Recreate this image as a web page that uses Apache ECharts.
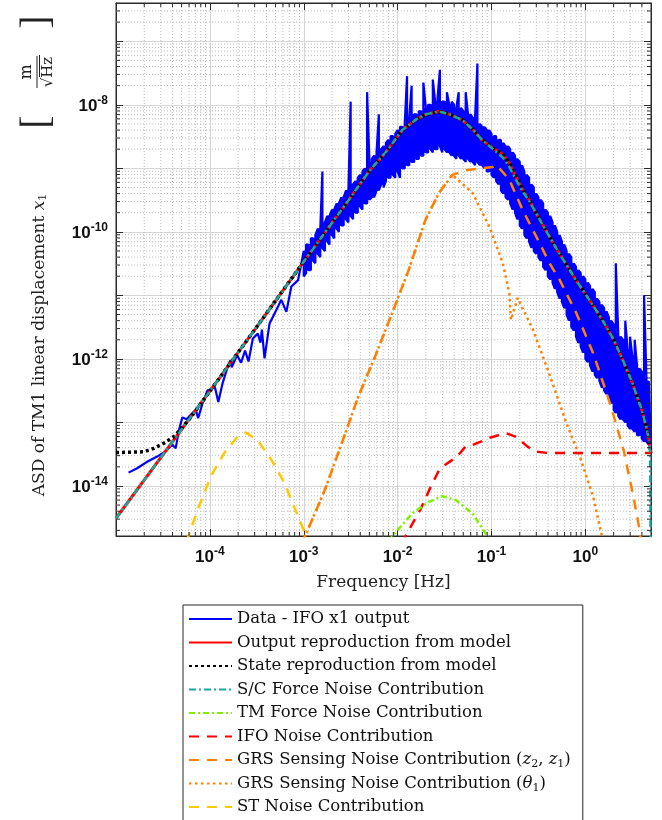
<!DOCTYPE html>
<html><head><meta charset="utf-8">
<script src="https://cdn.jsdelivr.net/npm/echarts@6/dist/echarts.min.js"></script>
<style>html,body{margin:0;padding:0;background:#fff;overflow:hidden}#c{width:662px;height:840px}</style>
</head><body><div id="c"></div>
<script>
// ---- axis settings ----
const xMin = 1e-5, xMax = 5;
const yMin = 1.63e-15, yMax = 4e-7;

// ---- measured data (blue), low-frequency part: [Hz, m/sqrt(Hz)] ----
const blueLowFreq = [
[1.36e-5,1.62e-14],[1.68e-5,1.9e-14],[2.15e-5,2.4e-14],[2.75e-5,2.9e-14],[3.37e-5,3.5e-14],[3.98e-5,4.5e-14],[4.32e-5,3.9e-14],[4.69e-5,7.6e-14],[5.09e-5,1.2e-13],[5.66e-5,1.12e-13],[6.25e-5,1.32e-13],[7.08e-5,1.58e-13],[7.5e-5,1.17e-13],[8.36e-5,2.0e-13],[9.44e-5,3.2e-13],[1.02e-4,3.3e-13],[1.13e-4,3.6e-13],[1.23e-4,2.1e-13],[1.37e-4,4.2e-13],[1.55e-4,7.6e-13],[1.65e-4,9.5e-13],[1.71e-4,7.4e-13],[1.95e-4,1.15e-12],[2.15e-4,8.7e-13],[2.37e-4,1.35e-12],[2.58e-4,9.1e-13],[2.87e-4,2.1e-12],[3.24e-4,2.5e-12],[3.46e-4,1.8e-12],[3.58e-4,2.9e-12],[3.82e-4,1.02e-12],[4.32e-4,3.6e-12],[4.89e-4,5.2e-12],[5.77e-4,8.5e-12],[6.53e-4,5.5e-12],[7.38e-4,1.38e-11],[8.71e-4,1.74e-11]
];
// ---- measured data (blue), dense band above 1 mHz: frequency, upper and lower excursion ----
const blueFreq = [
1.00e-3,1.06e-3,1.12e-3,1.19e-3,1.26e-3,1.33e-3,1.41e-3,1.50e-3,1.58e-3,1.68e-3,1.78e-3,1.88e-3,2.00e-3,2.11e-3,2.24e-3,2.37e-3,2.51e-3,2.66e-3,2.82e-3,2.99e-3,
3.16e-3,3.35e-3,3.55e-3,3.76e-3,3.98e-3,4.22e-3,4.47e-3,4.73e-3,5.01e-3,5.31e-3,5.62e-3,5.96e-3,6.31e-3,6.68e-3,7.08e-3,7.50e-3,7.94e-3,8.41e-3,8.91e-3,9.44e-3,
1.00e-2,1.06e-2,1.12e-2,1.19e-2,1.26e-2,1.33e-2,1.41e-2,1.50e-2,1.58e-2,1.68e-2,1.78e-2,1.88e-2,2.00e-2,2.11e-2,2.24e-2,2.37e-2,2.51e-2,2.66e-2,2.82e-2,2.99e-2,
3.16e-2,3.35e-2,3.55e-2,3.76e-2,3.98e-2,4.22e-2,4.47e-2,4.73e-2,5.01e-2,5.31e-2,5.62e-2,5.96e-2,6.31e-2,6.68e-2,7.08e-2,7.50e-2,7.94e-2,8.41e-2,8.91e-2,9.44e-2,
1.00e-1,1.06e-1,1.12e-1,1.19e-1,1.26e-1,1.33e-1,1.41e-1,1.50e-1,1.58e-1,1.68e-1,1.78e-1,1.88e-1,2.00e-1,2.11e-1,2.24e-1,2.37e-1,2.51e-1,2.66e-1,2.82e-1,2.99e-1,
3.16e-1,3.35e-1,3.55e-1,3.76e-1,3.98e-1,4.22e-1,4.47e-1,4.73e-1,5.01e-1,5.31e-1,5.62e-1,5.96e-1,6.31e-1,6.68e-1,7.08e-1,7.50e-1,7.94e-1,8.41e-1,8.91e-1,9.44e-1,
1.00,1.06,1.12,1.19,1.26,1.33,1.41,1.50,1.58,1.68,1.78,1.88,2.00,2.11,2.24,2.37,2.51,2.66,2.82,2.99,
3.16,3.35,3.55,3.76,3.98,4.22,4.47,4.73,5.00
];
const blueUpper = [
5.0e-11,6.3e-11,6.3e-11,7.9e-11,7.9e-11,8.9e-11,1.12e-10,1.12e-10,8.9e-10,1.41e-10,
1.78e-10,1.78e-10,2.24e-10,2.24e-10,2.8e-10,2.8e-10,3.5e-10,3.5e-10,4.5e-10,4.5e-10,
1.12e-8,5.6e-10,6.3e-10,7.1e-10,7.9e-10,8.9e-10,1.0e-9,1.58e-8,1.26e-9,1.41e-9,
1.58e-9,1.78e-9,7.1e-9,2.0e-9,2.24e-9,2.5e-9,2.8e-9,3.2e-9,3.2e-9,3.5e-9,
4.0e-9,4.5e-9,4.5e-9,5.0e-9,2.82e-8,6.3e-9,2.0e-8,7.1e-9,7.1e-9,7.9e-9,
7.9e-9,2.24e-8,8.9e-9,1.0e-8,1.0e-8,2.5e-8,1.12e-8,1.26e-8,3.55e-8,1.12e-8,
1.12e-8,1.58e-8,1.0e-8,1.12e-8,1.0e-8,8.9e-9,1.58e-8,8.9e-9,7.9e-9,1.58e-8,
7.1e-9,7.1e-9,6.3e-9,6.3e-9,4.47e-8,5.0e-9,4.5e-9,4.5e-9,4.0e-9,4.0e-9,
3.5e-9,3.2e-9,3.2e-9,2.8e-9,2.8e-9,2.5e-9,2.24e-9,2.24e-9,2.0e-9,1.78e-9,
1.58e-9,1.41e-9,1.26e-9,1.12e-9,8.9e-10,7.9e-10,7.1e-10,5.6e-10,5.0e-10,4.0e-10,
3.5e-10,3.2e-10,2.8e-10,2.24e-10,2.0e-10,1.78e-10,1.41e-10,1.26e-10,1.0e-10,8.9e-11,
7.1e-11,6.3e-11,5.0e-11,4.5e-11,4.0e-11,3.2e-11,2.8e-11,2.5e-11,2.24e-11,2.0e-11,
1.78e-11,1.58e-11,1.41e-11,1.26e-11,1.12e-11,8.9e-12,7.9e-12,7.1e-12,6.3e-12,5.6e-12,
4.5e-12,4.0e-12,3.5e-12,3.2e-11,2.5e-12,2.24e-12,2.0e-12,4.0e-12,1.41e-12,2.24e-12,
1.12e-12,2.0e-12,7.9e-13,7.1e-13,6.3e-13,1.0e-11,5.0e-13,4.5e-13,4.0e-14
];
const blueLower = [
2.0e-11,2.24e-11,2.5e-11,2.5e-11,3.5e-11,3.2e-11,4.5e-11,4.0e-11,5.6e-11,5.0e-11,
7.1e-11,6.3e-11,8.9e-11,7.9e-11,1.12e-10,1.0e-10,1.26e-10,1.26e-10,1.58e-10,1.41e-10,
1.78e-10,1.58e-10,2.0e-10,2.0e-10,2.5e-10,2.24e-10,2.8e-10,2.8e-10,3.2e-10,3.5e-10,
3.5e-10,4.5e-10,4.5e-10,5.6e-10,5.0e-10,6.3e-10,7.1e-10,7.1e-10,7.9e-10,7.1e-10,
8.9e-10,7.1e-10,1.0e-9,1.0e-9,1.12e-9,1.12e-9,1.26e-9,1.26e-9,1.41e-9,1.41e-9,
1.58e-9,1.58e-9,1.78e-9,1.78e-9,2.0e-9,1.78e-9,2.0e-9,2.0e-9,2.24e-9,1.78e-9,
2.0e-9,1.78e-9,1.78e-9,1.58e-9,1.58e-9,1.41e-9,1.58e-9,1.41e-9,1.41e-9,1.26e-9,
1.41e-9,1.26e-9,1.26e-9,1.12e-9,1.26e-9,1.12e-9,1.12e-9,1.0e-9,8.9e-10,8.9e-10,
7.9e-10,7.1e-10,6.3e-10,5.6e-10,4.5e-10,4.0e-10,3.5e-10,3.2e-10,2.8e-10,2.24e-10,
2.0e-10,1.58e-10,1.26e-10,1.12e-10,8.9e-11,7.9e-11,7.1e-11,5.6e-11,5.0e-11,4.5e-11,
4.0e-11,3.5e-11,2.8e-11,2.5e-11,2.0e-11,1.78e-11,1.58e-11,1.26e-11,1.12e-11,8.9e-12,
7.9e-12,6.3e-12,5.0e-12,4.0e-12,3.2e-12,2.8e-12,2.24e-12,1.78e-12,1.58e-12,1.26e-12,
1.0e-12,8.9e-13,7.9e-13,6.3e-13,5.6e-13,5.0e-13,4.5e-13,3.5e-13,3.2e-13,2.8e-13,
2.24e-13,2.0e-13,1.58e-13,1.41e-13,1.26e-13,1.12e-13,1.12e-13,1.0e-13,8.9e-14,7.9e-14,
7.9e-14,7.1e-14,6.3e-14,6.3e-14,5.6e-14,5.0e-14,5.0e-14,4.5e-14,3.5e-14
];

// ---- model curves ----
const dataOutputModel = [
[1e-5,3.1e-15],[3.16e-5,3.1e-14],[1e-4,3.1e-13],[3.16e-4,3.2e-12],[1e-3,3.4e-11],[3.16e-3,3.5e-10],[5.0e-3,9.1e-10],[7.94e-3,2.0e-9],[1.12e-2,4.0e-9],[1.58e-2,5.9e-9],[2.0e-2,7.1e-9],[2.75e-2,7.85e-9],[3.55e-2,7.1e-9],[4.9e-2,5.75e-9],[6.3e-2,4.1e-9],[7.94e-2,2.8e-9],[1.0e-1,2.15e-9],[1.32e-1,1.66e-9],[1.55e-1,1.2e-9],[1.82e-1,7.4e-10],[2.15e-1,4.6e-10],[2.51e-1,3.2e-10],[3.16e-1,1.7e-10],[3.98e-1,9.3e-11],[5.01e-1,5.2e-11],[6.31e-1,3.0e-11],[7.94e-1,1.74e-11],[1.0,1.05e-11],[1.26,6.3e-12],[1.58,3.7e-12],[2.0,2.0e-12],[2.51,9.5e-13],[3.16,4.2e-13],[3.98,1.58e-13],[4.47,8.3e-14],[4.79,5.0e-14],[5.0,3.3e-14]
];
const dataStateModel = [
[1e-5,3.35e-14],[1.98e-5,3.45e-14],[2.53e-5,3.9e-14],[3.24e-5,4.7e-14],[4.14e-5,6.0e-14],[4.89e-5,7.8e-14],[6.25e-5,1.2e-13],[1e-4,3.1e-13],[3.16e-4,3.2e-12],[1e-3,3.4e-11],[3.16e-3,3.5e-10],[5.0e-3,9.1e-10],[7.94e-3,2.0e-9],[1.12e-2,4.0e-9],[1.58e-2,5.9e-9],[2.0e-2,7.1e-9],[2.75e-2,7.85e-9],[3.55e-2,7.1e-9],[4.9e-2,5.75e-9],[6.3e-2,4.1e-9],[7.94e-2,2.8e-9],[1.0e-1,2.15e-9],[1.32e-1,1.66e-9],[1.55e-1,1.2e-9],[1.82e-1,7.4e-10],[2.15e-1,4.6e-10],[2.51e-1,3.2e-10],[3.16e-1,1.7e-10],[3.98e-1,9.3e-11],[5.01e-1,5.2e-11],[6.31e-1,3.0e-11],[7.94e-1,1.74e-11],[1.0,1.05e-11],[1.26,6.3e-12],[1.58,3.7e-12],[2.0,2.0e-12],[2.51,9.5e-13],[3.16,4.2e-13],[3.98,1.58e-13],[4.47,8.3e-14],[4.79,5.0e-14],[5.0,3.3e-14]
];
const dataSCForce = [
[1e-5,3.1e-15],[3.16e-5,3.1e-14],[1e-4,3.1e-13],[3.16e-4,3.2e-12],[1e-3,3.4e-11],[3.16e-3,3.5e-10],[5.0e-3,9.1e-10],[7.94e-3,2.0e-9],[1.12e-2,4.0e-9],[1.58e-2,5.9e-9],[2.0e-2,7.1e-9],[2.75e-2,7.85e-9],[3.55e-2,7.1e-9],[4.9e-2,5.75e-9],[6.3e-2,4.1e-9],[7.94e-2,2.8e-9],[1.0e-1,2.1e-9],[1.32e-1,1.48e-9],[1.55e-1,1.05e-9],[1.82e-1,6.6e-10],[2.15e-1,4.3e-10],[2.51e-1,3.1e-10],[3.16e-1,1.7e-10],[3.98e-1,9.3e-11],[5.01e-1,5.2e-11],[6.31e-1,3.0e-11],[7.94e-1,1.74e-11],[1.0,1.05e-11],[1.26,6.3e-12],[1.58,3.7e-12],[2.0,2.0e-12],[2.51,9.5e-13],[3.16,4.2e-13],[3.98,1.58e-13],[4.47,8.3e-14],[4.79,5.0e-14],[4.9,3.0e-14],[4.95,1.0e-15]
];
const dataTMForce = [
[8.5e-3,1.3e-15],[8.71e-3,1.6e-15],[1.43e-2,3.7e-15],[2.15e-2,5.6e-15],[2.99e-2,6.9e-15],[4.16e-2,6.0e-15],[6.28e-2,3.7e-15],[9.08e-2,1.6e-15],[9.5e-2,1.2e-15]
];
const dataIFONoise = [
[1.15e-2,1.2e-15],[1.21e-2,1.6e-15],[1.45e-2,2.6e-15],[1.74e-2,4.2e-15],[2.2e-2,9.0e-15],[2.76e-2,1.78e-14],[3.0e-2,2.0e-14],[4.3e-2,2.9e-14],[5.3e-2,4.2e-14],[6.5e-2,4.5e-14],[9.8e-2,5.8e-14],[1.43e-1,6.8e-14],[1.83e-1,5.9e-14],[2.4e-1,4.2e-14],[2.9e-1,3.5e-14],[4.0e-1,3.3e-14],[5.0,3.3e-14]
];
const dataGRSz = [
[9.8e-4,1.2e-15],[1.03e-3,1.6e-15],[1.68e-3,8.7e-15],[2.54e-3,4.7e-14],[3.83e-3,2.6e-13],[5.77e-3,1.1e-12],[8.71e-3,5.2e-12],[1.31e-2,2.5e-11],[1.98e-2,1.55e-10],[2.76e-2,4.1e-10],[3.83e-2,7.9e-10],[5.3e-2,9.3e-10],[1.03e-1,1.05e-9],[1.13e-1,1.13e-9],[1.55e-1,6.6e-10],[2.15e-1,2.2e-10],[2.99e-1,8.5e-11],[4.16e-1,3.2e-11],[5.33e-1,1.74e-11],[8.04e-1,5.2e-12],[1.21,1.23e-12],[1.83,2.0e-13],[2.55,3.7e-14],[3.25,6.8e-15],[3.84,1.8e-15],[3.95,1.0e-15]
];
const dataGRSTheta = [
[9.8e-4,1.2e-15],[1.03e-3,1.6e-15],[1.68e-3,8.7e-15],[2.54e-3,4.7e-14],[3.83e-3,2.6e-13],[5.77e-3,1.1e-12],[8.71e-3,5.2e-12],[1.31e-2,2.5e-11],[1.98e-2,1.55e-10],[2.76e-2,4.1e-10],[3.83e-2,7.9e-10],[6.28e-2,4.1e-10],[9.5e-2,1.2e-10],[1.32e-1,3.2e-11],[1.55e-1,1.07e-11],[1.61e-1,4.1e-12],[1.9e-1,9.1e-12],[2.76e-1,2.9e-12],[4.16e-1,5.6e-13],[6.27e-1,9.8e-14],[8.73e-1,2.9e-14],[1.21,6.8e-15],[1.49,1.7e-15],[1.55,1.0e-15]
];
const dataST = [
[5.6e-5,1.3e-15],[7.4e-5,4.2e-15],[1.02e-4,1.4e-14],[1.42e-4,3.3e-14],[1.98e-4,6.0e-14],[2.43e-4,6.9e-14],[3.24e-4,5.2e-14],[4.51e-4,2.6e-14],[6.25e-4,1.1e-14],[8.71e-4,3.3e-15],[1.03e-3,1.8e-15],[1.1e-3,1.0e-15]
];

const seriesNames = [
  'Data - IFO x1 output',
  'Output reproduction from model',
  'State reproduction from model',
  'S/C Force Noise Contribution',
  'TM Force Noise Contribution',
  'IFO Noise Contribution',
  'GRS Sensing Noise Contribution (z2, z1)',
  'GRS Sensing Noise Contribution (θ1)',
  'ST Noise Contribution'
];

// blue trace: the measured line swings between its upper and lower excursions at each frequency bin
const dataIFOx1 = blueLowFreq.slice();
blueFreq.forEach((f, i) => {
  if (i % 2 === 0) dataIFOx1.push([f, blueUpper[i]], [f, blueLower[i]]);
  else dataIFOx1.push([f, blueLower[i]], [f, blueUpper[i]]);
});
// solid core of the dense blue trace between adjacent bins (drawn under the line)
const blueCore = blueFreq.slice(0, -1).map((f, i) => [f, blueFreq[i + 1],
  Math.min(blueUpper[i], blueUpper[i + 1]), Math.max(blueLower[i], blueLower[i + 1])]);

// minor grid lines and minor frame ticks at 2..9 x 10^k (axis decoration only)
const minorGrid = [], minorTicks = [];
const tx = Math.pow(10, 4 / 94), ty = Math.pow(10, 4 / 63.5); // 4px tick length in axis units
for (let d = -5; d <= 0; d++) for (let m = 2; m <= 9; m++) {
  const v = m * Math.pow(10, d);
  if (v < xMax) {
    minorGrid.push([v, yMin], [v, yMax], [v, '-']);
    minorTicks.push([v, yMin], [v, yMin * ty], [v, '-'], [v, yMax / ty], [v, yMax], [v, '-']);
  }
}
for (let d = -15; d <= -7; d++) for (let m = 2; m <= 9; m++) {
  const v = m * Math.pow(10, d);
  if (v > yMin && v < yMax) {
    minorGrid.push([xMin, v], [xMax, v], ['-', v]);
    minorTicks.push([xMin, v], [xMin * tx, v], ['-', v], [xMax / tx, v], [xMax, v], ['-', v]);
  }
}

function expOf(v) { const e = Math.log10(v); const r = Math.round(e); return Math.abs(e - r) < 1e-6 ? r : null; }
const tickRich = {
  b: {fontFamily: 'Liberation Sans', fontWeight: 'bold', fontSize: 17, color: '#111', verticalAlign: 'bottom'},
  s: {fontFamily: 'Liberation Sans', fontWeight: 'bold', fontSize: 12, color: '#111', verticalAlign: 'bottom', padding: [0, 0, 8, 0]}
};
const serif = 'DejaVu Serif';

function line(name, data, color, width, type, z) {
  return {name, type: 'line', data, showSymbol: false, symbol: 'none', z, clip: true,
    lineStyle: {color, width, type}, itemStyle: {color}, emphasis: {disabled: true}, animation: false};
}

const chart = echarts.init(document.getElementById('c'), null, {renderer: 'canvas'});
chart.setOption({
  animation: false,
  backgroundColor: '#fff',
  grid: {left: 116, right: 11, top: 3, bottom: 304, show: true, borderColor: '#2a2a2a', borderWidth: 1, backgroundColor: 'rgba(0,0,0,0)'},
  xAxis: [{
    type: 'log', logBase: 10, min: xMin, max: xMax,
    name: 'Frequency [Hz]', nameLocation: 'middle', nameGap: 38,
    nameTextStyle: {fontFamily: serif, fontSize: 17, color: '#222'},
    axisLine: {show: true, lineStyle: {color: '#2a2a2a'}},
    axisTick: {show: true, inside: true, length: 7, lineStyle: {color: '#2a2a2a'}},
    splitLine: {show: true, lineStyle: {color: '#d6d6d6', width: 1}},
    axisLabel: {margin: 10, rich: tickRich, formatter: v => { const e = expOf(v); return (e === null || e < -4) ? '' : '{b|10}{s|' + e + '}'; }}
  }, {
    type: 'log', logBase: 10, min: xMin, max: xMax, position: 'top',
    axisLine: {show: true, lineStyle: {color: '#2a2a2a'}},
    axisTick: {show: true, inside: true, length: 7, lineStyle: {color: '#2a2a2a'}},
    splitLine: {show: false}, axisLabel: {show: false}
  }],
  yAxis: [{
    type: 'log', logBase: 10, min: yMin, max: yMax,
    axisLine: {show: true, lineStyle: {color: '#2a2a2a'}},
    axisTick: {show: true, inside: true, length: 7, lineStyle: {color: '#2a2a2a'}},
    splitLine: {show: true, lineStyle: {color: '#d6d6d6', width: 1}},
    axisLabel: {margin: 8, rich: tickRich, formatter: v => { const e = expOf(v); return (e === null || e % 2 !== 0) ? '' : '{b|10}{s|' + e + '}'; }}
  }, {
    type: 'log', logBase: 10, min: yMin, max: yMax, position: 'right',
    axisLine: {show: true, lineStyle: {color: '#2a2a2a'}},
    axisTick: {show: true, inside: true, length: 7, lineStyle: {color: '#2a2a2a'}},
    splitLine: {show: false}, axisLabel: {show: false}
  }],
  legend: {
    show: true, orient: 'vertical', left: 183, top: 605,
    padding: [4, 12, 8, 5], itemGap: 3.5, itemWidth: 43, itemHeight: 14,
    borderColor: '#262626', borderWidth: 1, backgroundColor: '#fff',
    data: seriesNames,
    selectedMode: false,
    itemStyle: {color: 'rgba(0,0,0,0)', borderWidth: 0, opacity: 0},
    textStyle: {fontFamily: serif, fontSize: 16.5, color: '#111', lineHeight: 20,
      rich: {
        i: {fontFamily: serif, fontStyle: 'italic', fontSize: 16.5, color: '#111'},
        sub: {fontFamily: serif, fontSize: 11, color: '#111', verticalAlign: 'bottom', padding: [5, 0, 0, 0]}
      }},
    formatter: n => {
      if (n.indexOf('(z2') >= 0) return 'GRS Sensing Noise Contribution ({i|z}{sub|2}, {i|z}{sub|1})';
      if (n.indexOf('(θ1') >= 0) return 'GRS Sensing Noise Contribution ({i|θ}{sub|1})';
      return n;
    }
  },
  graphic: [
    {type: 'text', x: 40, y: 345, rotation: Math.PI / 2,
      style: {text: 'ASD of TM1 linear displacement {i|x}{sub|1}', fontFamily: serif, fontSize: 17, fill: '#222', align: 'center', verticalAlign: 'middle',
        rich: {i: {fontFamily: serif, fontStyle: 'italic', fontSize: 17, fill: '#222'}, sub: {fontFamily: serif, fontSize: 11, fill: '#222', verticalAlign: 'bottom', padding: [5,0,0,0]}}}},
    {type: 'group', x: 37, y: 72, rotation: Math.PI / 2, children: [
      {type: 'text', x: -50, y: 0, style: {text: '[', fontFamily: 'Liberation Serif', fontSize: 40, fill: '#222', align: 'center', verticalAlign: 'middle'}},
      {type: 'text', x: 0, y: -10, style: {text: 'm', fontFamily: serif, fontSize: 16, fill: '#222', align: 'center', verticalAlign: 'middle'}},
      {type: 'line', shape: {x1: -16, y1: 0, x2: 16, y2: 0}, style: {stroke: '#222', lineWidth: 1}},
      {type: 'text', x: 0, y: 11, style: {text: '√Hz', fontFamily: serif, fontSize: 15, fill: '#222', align: 'center', verticalAlign: 'middle'}},
      {type: 'line', shape: {x1: -5, y1: 2.5, x2: 17, y2: 2.5}, style: {stroke: '#222', lineWidth: 1}},
      {type: 'text', x: 50, y: 0, style: {text: ']', fontFamily: 'Liberation Serif', fontSize: 40, fill: '#222', align: 'center', verticalAlign: 'middle'}}
    ]}
  ],
  series: [
    {name: 'minor grid', type: 'line', data: minorGrid, silent: true, z: 1, showSymbol: false, symbol: 'none', connectNulls: false,
      lineStyle: {type: [1, 2], color: '#bdbdbd', width: 1}, emphasis: {disabled: true}, animation: false},
    {name: 'minor ticks', type: 'line', data: minorTicks, silent: true, z: 7, showSymbol: false, symbol: 'none', connectNulls: false,
      lineStyle: {type: 'solid', color: '#2a2a2a', width: 1}, emphasis: {disabled: true}, animation: false},
    {name: 'blue core', type: 'custom', data: blueCore, z: 2, silent: true, clip: true, animation: false,
      encode: {x: [0, 1], y: [2, 3]},
      renderItem: (params, api) => {
        const p1 = api.coord([api.value(0), api.value(2)]);
        const p2 = api.coord([api.value(1), api.value(3)]);
        return {type: 'rect', shape: {x: p1[0], y: p1[1], width: p2[0] - p1[0], height: p2[1] - p1[1]},
          style: {fill: '#0000ff', stroke: '#0000ff', lineWidth: 0.8}};
      }},
    line(seriesNames[0], dataIFOx1, '#0000ff', 2.2, 'solid', 2),
    line(seriesNames[8], dataST, '#ffc800', 2.5, [10, 8], 3),
    line(seriesNames[7], dataGRSTheta, '#ff8000', 2.5, [2.5, 3.5], 3),
    line(seriesNames[6], dataGRSz, '#ff8000', 2.5, [10, 8], 3),
    line(seriesNames[5], dataIFONoise, '#ff0000', 2.5, [10, 8], 3),
    line(seriesNames[4], dataTMForce, '#80f000', 2.5, [6, 3, 2, 3], 3),
    line(seriesNames[1], dataOutputModel, '#ff0000', 3, 'solid', 4),
    line(seriesNames[2], dataStateModel, '#000000', 3.5, [3, 3], 5),
    line(seriesNames[3], dataSCForce, '#17a99c', 2.5, [7, 3, 2, 3], 6)
  ]
});
</script></body></html>
